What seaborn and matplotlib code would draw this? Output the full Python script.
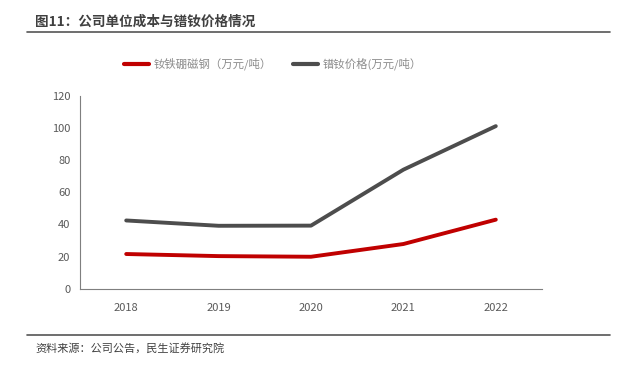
import pandas as pd
import matplotlib
matplotlib.use("Agg")
import matplotlib.pyplot as plt
import seaborn as sns
from matplotlib.ticker import FixedLocator

# ======================================
# 1. Datos
# ======================================
years = ["2018", "2019", "2020", "2021", "2022"]
ndfeb_cost = [21.7, 20.4, 20.0, 27.9, 43.0]
prnd_price = [42.5, 39.2, 39.3, 74.0, 101.0]
series_names = ["钕铁硼磁钢（万元/吨）", "镨钕价格(万元/吨）"]

df = pd.DataFrame({
    "year": list(range(len(years))) * 2,
    "value": ndfeb_cost + prnd_price,
    "serie": [series_names[0]] * len(years) + [series_names[1]] * len(years),
})

# ======================================
# 2. Configuración
# ======================================
sns.set_style("white")
plt.rcParams["font.family"] = ["Noto Sans CJK SC", "DejaVu Sans"]

fig = plt.figure(figsize=(6.18, 3.72), dpi=100)
ax = fig.add_axes([80 / 618, 1 - 289 / 372, 462 / 618, 193.5 / 372])

sns.lineplot(
    data=df, x="year", y="value", hue="serie",
    palette={series_names[0]: "#c00000", series_names[1]: "#4d4d4d"},
    linewidth=2.8, ax=ax, legend=False,
)

# ======================================
# 3. Ejes
# ======================================
ax.set_xlim(-0.5, len(years) - 0.5)
ax.set_ylim(0, 120)
ax.set_yticks(range(0, 121, 20))
ax.xaxis.set_major_locator(FixedLocator([i - 0.5 for i in range(len(years) + 1)]))
ax.xaxis.set_minor_locator(FixedLocator(list(range(len(years)))))
ax.set_xticklabels([], minor=False)
ax.set_xticklabels(years, minor=True)
ax.tick_params(axis="x", which="major", length=4, width=0.8, color="#7f7f7f", direction="out")
ax.tick_params(axis="x", which="minor", length=0, pad=10, labelsize=8, labelcolor="#595959")
ax.tick_params(axis="y", length=4, width=0.8, color="#7f7f7f", direction="out",
               labelsize=8, labelcolor="#595959", pad=3)
ax.set_xlabel("")
ax.set_ylabel("")
for s in ["top", "right"]:
    ax.spines[s].set_visible(False)
for s in ["left", "bottom"]:
    ax.spines[s].set_color("#7f7f7f")
    ax.spines[s].set_linewidth(0.8)

# ======================================
# 4. Leyenda
# ======================================
handles = [
    plt.Line2D([], [], color="#c00000", linewidth=3),
    plt.Line2D([], [], color="#4d4d4d", linewidth=3),
]
fig.legend(handles, series_names, loc="center", bbox_to_anchor=(273 / 618, 1 - 64 / 372),
           ncol=2, frameon=False, fontsize=8.2, labelcolor="#8c8c8c",
           handlelength=2.2, handletextpad=0.4, columnspacing=1.8)

# ======================================
# 5. Título y fuente
# ======================================
fig.text(35 / 618, 1 - 22 / 372, "图11：公司单位成本与镨钕价格情况", fontsize=9.8,
         fontweight="bold", color="#404040", va="center", ha="left")
fig.add_artist(plt.Line2D([27 / 618, 610 / 618], [1 - 32 / 372] * 2,
                          color="#555555", linewidth=1.2))
fig.add_artist(plt.Line2D([27 / 618, 610 / 618], [1 - 335 / 372] * 2,
                          color="#555555", linewidth=1.2))
fig.text(35 / 618, 1 - 348 / 372, "资料来源：公司公告，民生证券研究院", fontsize=8,
         color="#404040", va="center", ha="left")

fig.savefig("out.png", dpi=100)
